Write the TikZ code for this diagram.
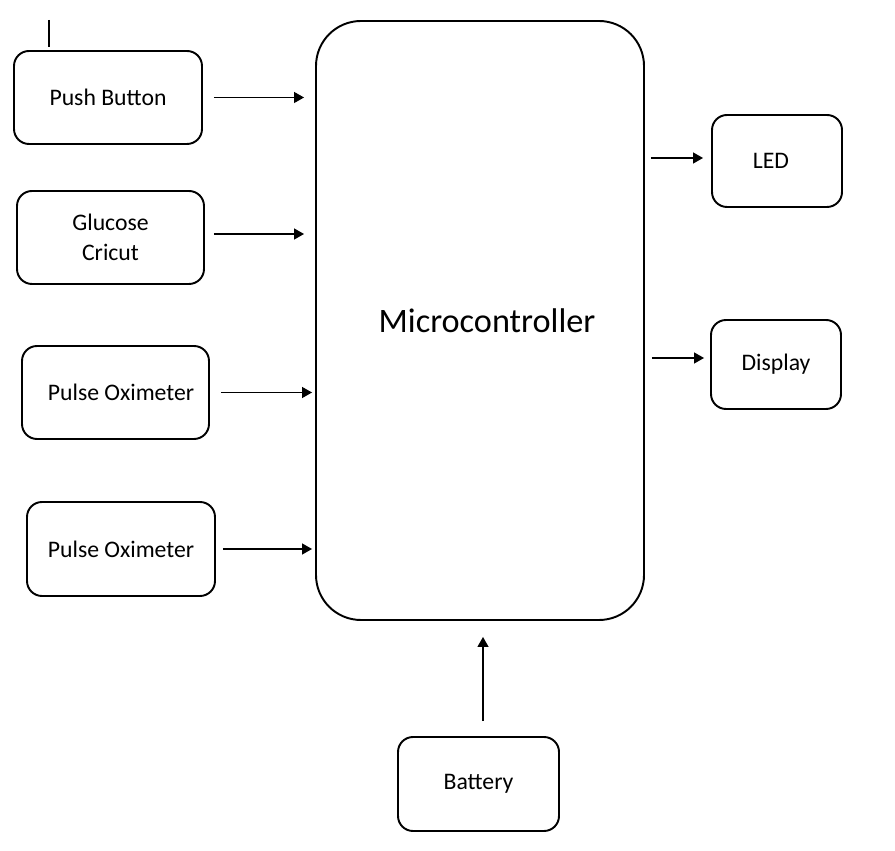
\documentclass[tikz,border=0pt]{standalone}
\usepackage{fontspec}
\setmainfont{Carlito}
\usetikzlibrary{arrows.meta,positioning}

\tikzset{
  block/.style={draw, line width=1.1pt, rounded corners=0.3cm, align=center,
    font=\fontsize{13.5}{17}\selectfont},
  link/.style={line width=0.7pt, -{Triangle[length=0.2cm, width=0.22cm]}}
}

\begin{document}
\begin{tikzpicture}
  % Canvas
  \useasboundingbox (0,0) rectangle (17.9,17);

  % Microcontroller
  \node[block, rounded corners=0.9cm, minimum width=6.56cm, minimum height=11.98cm,
    font=\fontsize{19.5}{23}\selectfont] (mcu) at (9.6,10.59) {\hspace*{0.28cm}Microcontroller};

  % Input blocks
  \node[block, minimum width=3.76cm, minimum height=1.86cm] (push) at (2.16,15.05) {Push Button};
  \node[block, minimum width=3.74cm, minimum height=1.86cm] (gluc) at (2.21,12.25) {Glucose\\Cricut};
  \node[block, minimum width=3.74cm, minimum height=1.86cm] (oxia) at (2.31,9.15) {\hspace*{0.22cm}Pulse Oximeter};
  \node[block, minimum width=3.76cm, minimum height=1.88cm] (oxib) at (2.42,6.02) {Pulse Oximeter};

  % Output blocks
  \node[block, minimum width=2.6cm, minimum height=1.84cm] (led) at (15.54,13.78) {LED\hspace*{0.24cm}};
  \node[block, minimum width=2.6cm, minimum height=1.78cm] (disp) at (15.52,9.71) {Display};

  % Power
  \node[block, minimum width=3.22cm, minimum height=1.88cm] (batt) at (9.57,1.32) {Battery};

  % Stray line above push button
  \coordinate (stub) at (0.98,16.6);
  \draw[line width=0.7pt, shorten >=0.06cm] (stub) -- (stub |- push.north);

  % Inputs to microcontroller
  \draw[link, shorten <=0.22cm, shorten >=0.22cm] (push.east) -- (push.east -| mcu.west);
  \draw[link, shorten <=0.18cm, shorten >=0.22cm] ([yshift=0.07cm]gluc.east) -- ([yshift=0.07cm]gluc.east -| mcu.west);
  \draw[link, shorten <=0.22cm, shorten >=0.06cm] (oxia.east) -- (oxia.east -| mcu.west);
  \draw[link, shorten <=0.14cm, shorten >=0.06cm] (oxib.east) -- (oxib.east -| mcu.west);

  % Microcontroller to outputs
  \draw[link, shorten <=0.12cm, shorten >=0.16cm] ([yshift=0.06cm]led.west -| mcu.east) -- ([yshift=0.06cm]led.west);
  \draw[link, shorten <=0.14cm, shorten >=0.12cm] ([yshift=0.13cm]disp.west -| mcu.east) -- ([yshift=0.13cm]disp.west);

  % Battery to microcontroller
  \draw[link, shorten <=0.3cm, shorten >=0.32cm] ([xshift=0.09cm]batt.north) -- ([xshift=0.09cm]batt.north |- mcu.south);
\end{tikzpicture}
\end{document}
